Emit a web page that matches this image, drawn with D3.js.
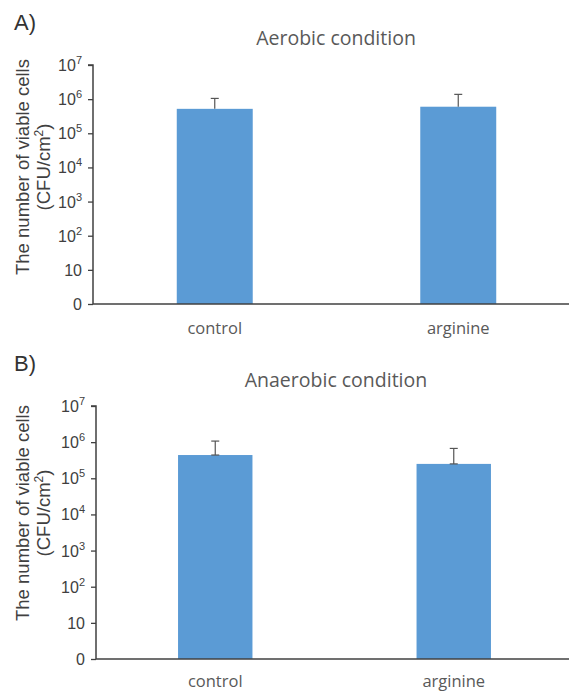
<!DOCTYPE html>
<html lang="en">
<head>
<meta charset="utf-8">
<title>Viable cells</title>
<script src="https://cdn.jsdelivr.net/npm/d3@7"></script>
<style>
  body { margin: 0; background: #fff; }
  svg text { font-family: "Liberation Sans", Arial, sans-serif; }
  .title, .cat { font-family: "Open Sans", "Noto Sans", sans-serif; fill: #595959; }
</style>
</head>
<body>
<script>
// data (CFU/cm2)
var categories = ["control", "arginine"];
var aerobicMean = [5.2e5, 6.0e5];
var aerobicErr = [5.3e5, 7.8e5];   // upper error amount
var anaerobicMean = [4.4e5, 2.5e5];
var anaerobicErr = [6.3e5, 4.2e5];
var tickValues = [1, 10, 1e2, 1e3, 1e4, 1e5, 1e6, 1e7];

var w = 569, h = 693;
var svg = d3.select("body").append("svg").attr("width", w).attr("height", h);

var panels = [
  { tag: "A)", tagY: 30, title: "Aerobic condition", titleY: 45, left: 93, base: 304, top: 65,
    xEnd: 580, mean: aerobicMean, err: aerobicErr, lowCap: false, labelY: 167, catY: 334 },
  { tag: "B)", tagY: 371, title: "Anaerobic condition", titleY: 387, left: 96, base: 659, top: 406,
    xEnd: 573, mean: anaerobicMean, err: anaerobicErr, lowCap: true, labelY: 513, catY: 687 }
];

panels.forEach(function(p) {
  var g = svg.append("g");

  var x = d3.scaleBand().domain(categories).range([p.left, p.xEnd])
    .paddingInner(0.688).paddingOuter(0.344);
  var y = d3.scaleLog().domain([1, 1e7]).range([p.base, p.top]);

  g.append("text").attr("x", 14).attr("y", p.tagY)
    .style("font-size", "22px").attr("fill", "#333").text(p.tag);

  g.append("text").attr("class", "title").attr("x", 336).attr("y", p.titleY)
    .attr("text-anchor", "middle").style("font-size", "19.5px").text(p.title);

  // y label
  var lab = g.append("text").attr("transform", "translate(0," + p.labelY + ") rotate(-90)")
    .attr("text-anchor", "middle").attr("fill", "#404040").style("font-size", "18.5px");
  lab.append("tspan").attr("x", 0).attr("y", 29).text("The number of viable cells");
  var l2 = lab.append("tspan").attr("x", 0).attr("y", 50).text("(CFU/cm");
  l2.append("tspan").attr("dy", -7).style("font-size", "12px").text("2");
  l2.append("tspan").attr("dy", 7).text(")");

  // bars
  g.selectAll("rect.bar").data(categories).enter().append("rect")
    .attr("x", function(d) { return x(d); })
    .attr("width", x.bandwidth())
    .attr("y", function(d, i) { return y(p.mean[i]); })
    .attr("height", function(d, i) { return p.base - y(p.mean[i]); })
    .attr("fill", "#5B9BD5");

  // error bars
  categories.forEach(function(c, i) {
    var cx = x(c) + x.bandwidth() / 2;
    var yt = y(p.mean[i] + p.err[i]), yb = y(p.mean[i]);
    g.append("line").attr("x1", cx).attr("x2", cx).attr("y1", yt).attr("y2", yb)
      .attr("stroke", "#555").attr("stroke-width", 1.2);
    g.append("line").attr("x1", cx - 4).attr("x2", cx + 4).attr("y1", yt).attr("y2", yt)
      .attr("stroke", "#555").attr("stroke-width", 1.2);
    if (p.lowCap) {
      g.append("line").attr("x1", cx - 4).attr("x2", cx + 4).attr("y1", yb).attr("y2", yb)
        .attr("stroke", "#555").attr("stroke-width", 1.2);
    }
  });

  // y axis
  var yAxis = d3.axisLeft(y).tickValues(tickValues).tickSize(5).tickFormat("");
  var ya = g.append("g").attr("transform", "translate(" + p.left + ",0)").call(yAxis);
  ya.select(".domain").attr("stroke", "#404040").attr("stroke-width", 1.5).attr("d", "M-5," + p.top + "H0V" + p.base);
  ya.selectAll(".tick line").attr("stroke", "#404040").attr("stroke-width", 1.3);

  tickValues.forEach(function(v) {
    var t = g.append("text").attr("x", p.left - 11).attr("y", y(v) + 6)
      .attr("text-anchor", "end").attr("fill", "#404040").style("font-size", "16px");
    var e = Math.round(Math.log10(v));
    if (v === 1) t.text("0");
    else if (v === 10) t.text("10");
    else {
      t.text("10");
      t.append("tspan").attr("dy", -7).style("font-size", "11px").text(e);
    }
  });

  // x axis
  var xa = g.append("g").attr("transform", "translate(0," + p.base + ")")
    .call(d3.axisBottom(x).tickSize(0).tickFormat(""));
  xa.select(".domain").attr("stroke", "#404040").attr("stroke-width", 1.5)
    .attr("d", "M" + p.left + ",0H" + w);

  g.selectAll("text.cat").data(categories).enter().append("text")
    .attr("class", "cat")
    .attr("x", function(d) { return x(d) + x.bandwidth() / 2; })
    .attr("y", p.catY)
    .attr("text-anchor", "middle").style("font-size", "16.5px")
    .text(function(d) { return d; });
});
</script>
</body>
</html>
